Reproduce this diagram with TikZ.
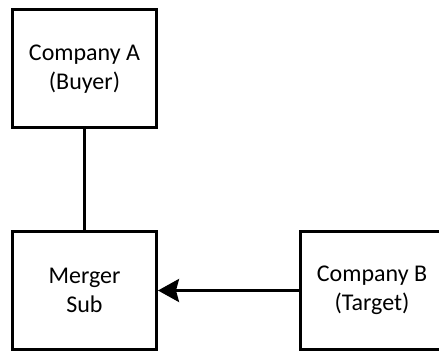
\documentclass[tikz,border=0pt]{standalone}
\usepackage{fontspec}
\setmainfont{Carlito}
\usetikzlibrary{arrows.meta}
\begin{document}
\begin{tikzpicture}[x=1pt,y=-1pt,
  entity/.style={draw=black, line width=3pt, fill=white,
    minimum width=144pt, minimum height=118pt, inner sep=0pt,
    align=center, font=\fontsize{24}{29}\selectfont},
  link/.style={line width=3pt},
  flow/.style={line width=3pt, -{Stealth[length=21pt,width=23pt,inset=3pt]}}]
  \useasboundingbox (0,0) rectangle (439,352);
  \clip (0,0) rectangle (439,352);
  % the three companies
  \node[entity] (buyer)  at (84.5,69)   {Company A\\(Buyer)};
  \node[entity] (merger) at (84.5,290.5) {Merger\\Sub};
  \node[entity] (target) at (372,290.5) {Company B\\(Target)};
  % ownership line and merger arrow
  \draw[link] (buyer.south) -- (merger.north);
  \draw[flow] (target.west) -- (merger.east);
\end{tikzpicture}
\end{document}
